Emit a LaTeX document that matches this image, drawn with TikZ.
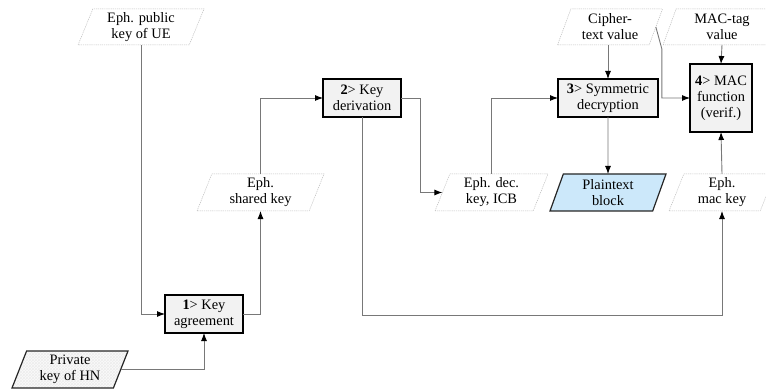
\documentclass[tikz,border=0pt]{standalone}
\usepackage{fontspec}
\setmainfont{Liberation Serif}
\usetikzlibrary{shapes.geometric,arrows.meta,patterns}

\definecolor{boxgray}{RGB}{242,242,242}
\definecolor{linegray}{RGB}{120,120,120}
\definecolor{plainblue}{RGB}{204,232,250}
\definecolor{dotgray}{RGB}{190,190,190}

\begin{document}
\begin{tikzpicture}[x=1pt,y=-1pt,
  font=\fontsize{14.4}{16}\selectfont,
  stepbox/.style={draw=black, line width=1.6pt, fill=boxgray, align=center,
    inner sep=0pt, outer sep=0pt, minimum height=38pt},
  para/.style={trapezium, trapezium left angle=63, trapezium right angle=117,
    trapezium stretches body, minimum height=37pt, inner sep=0pt,
    outer sep=0pt, align=center},
  datum/.style={para, draw=dotgray, dash pattern=on 1.2pt off 0.9pt,
    line width=0.5pt, fill=white},
  conn/.style={draw=linegray, line width=0.9pt,
    -{Latex[length=8pt,width=6pt,color=black]}},
]
\useasboundingbox (0,0) rectangle (766,390);

% processing steps
\node[stepbox, minimum width=78pt] (k1) at (204,314) {\textbf{1}> Key\\agreement};
\node[stepbox, minimum width=78pt] (k2) at (362,98) {\textbf{2}> Key\\derivation};
\node[stepbox, minimum width=100pt] (k3) at (608,98) {\textbf{3}> Symmetric\\decryption};
\node[stepbox, minimum width=62pt, minimum height=68pt] (k4) at (721,98) {\textbf{4}> MAC\\function\\(verif.)};

% data items
\node[datum, minimum width=126pt, minimum height=36pt] (pub) at (141,27) {Eph. public\\key of UE};
\node[datum, minimum width=127pt] (shared) at (260.5,192.5) {Eph.\\shared key};
\node[datum, minimum width=113pt] (dec) at (491.5,192.5) {Eph. dec.\\key, ICB};
\node[para, minimum width=116pt, draw=black!85, line width=1.2pt, fill=plainblue] (plain) at (608,192.5) {Plaintext\\block};
\node[datum, minimum width=106pt] (mackey) at (722,192.5) {Eph.\\mac key};
\node[datum, minimum width=105pt, minimum height=36pt] (cipher) at (610,27) {Cipher-\\text value};
\node[datum, minimum width=118pt, minimum height=36pt] (mactag) at (722,27) {MAC-tag\\value};
\node[para, minimum width=116pt, draw=black!85, line width=1.2pt,
  preaction={fill=gray!4}, pattern=crosshatch, pattern color=gray!14] (priv) at (70,369.5) {Private\\key of HN};

% data flow
\draw[conn] (pub.south) |- (k1.west);
\draw[conn] (priv.east) -| (k1.south);
\draw[conn] (k1.east) -| (shared.south);
\draw[conn] (shared.north) |- (k2.west);
\draw[conn] (k2.east) -- ++(19,0) |- (dec.west);
\draw[conn] (k2.south) -- ++(0,198) -| (mackey.south);
\draw[conn] (dec.north) |- (k3.west);
\draw[conn] (k3.north |- cipher.south) -- (k3.north);
\draw[conn] (k3.south) -- (plain.north);
\draw[conn] (cipher.east) -- ++(6,22) |- (k4.west);
\draw[conn] (mactag.south) -- (k4.north);
\draw[conn] (mackey.north) -- (k4.south);
\end{tikzpicture}
\end{document}
